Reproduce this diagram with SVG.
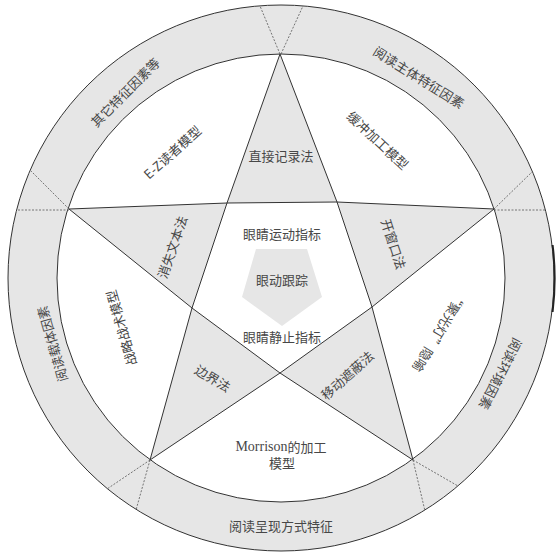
<svg xmlns="http://www.w3.org/2000/svg" width="560" height="558" viewBox="0 0 560 558">
<style>
.g{fill:#e6e6e6}
.ln{fill:none;stroke:#333;stroke-width:1}
.ds{fill:none;stroke:#555;stroke-width:0.8;stroke-dasharray:2 1.5}
text{font-family:"Noto Sans CJK SC","Noto Sans",sans-serif;font-size:13px;fill:#474747;text-anchor:middle;dominant-baseline:central}
.lat{font-family:"Liberation Serif","Noto Sans CJK SC",serif;font-size:14px}
</style>
<rect width="560" height="558" fill="#fff"/>
<g id="ring">
<path class="g" fill-rule="evenodd" d="M8,278 a273,273 0 1,0 546,0 a273,273 0 1,0 -546,0 Z M57,278 a224,224 0 1,0 448,0 a224,224 0 1,0 -448,0 Z"/>
<circle cx="281" cy="278" r="273" class="ln"/>
<circle cx="281" cy="278" r="224" class="ln"/>
<path d="M552.6,245 A273.6,273.6 0 0 1 552.6,312" fill="none" stroke="#222" stroke-width="2"/>
</g>
<g id="ring-labels">
<g id="r-other"><text transform="translate(125,92) rotate(-45)">其它特征因素等</text></g>
<g id="r-subject"><text transform="translate(419,77) rotate(32)">阅读主体特征因素</text></g>
<g id="r-env"><text transform="translate(501,374) rotate(117)">阅读环境因素</text></g>
<g id="r-present"><text x="281" y="525">阅读呈现方式特征</text></g>
<g id="r-carrier"><text transform="translate(52,344) rotate(-106)">阅读载体因素</text></g>
</g>
<g id="star">
<polygon class="g" points="280,54 337,202 227,203"/>
<polygon class="g" points="494,209 372,307 337,202"/>
<polygon class="g" points="413,460 280,373 372,307"/>
<polygon class="g" points="150,460 192,308 280,373"/>
<polygon class="g" points="69,209 227,203 192,308"/>
</g>
<g id="connectors">
<polyline class="ln" points="69,209 227,203 337,202 494,209"/>
<polyline class="ln" points="280,54 227,203 192,308 150,460"/>
<polyline class="ln" points="280,54 337,202 372,307 413,460"/>
<polyline class="ln" points="69,209 192,308 280,373 413,460"/>
<polyline class="ln" points="494,209 372,307 280,373 150,460"/>
<line class="ds" x1="280" y1="54" x2="260" y2="6"/>
<line class="ds" x1="281" y1="54" x2="303" y2="6"/>
<line class="ds" x1="494" y1="209" x2="532" y2="172"/>
<line class="ds" x1="494" y1="210" x2="546" y2="210"/>
<line class="ds" x1="69" y1="209" x2="31" y2="171"/>
<line class="ds" x1="69" y1="210" x2="16" y2="210"/>
<line class="ds" x1="150" y1="460" x2="107" y2="489"/>
<line class="ds" x1="150" y1="460" x2="136" y2="510"/>
<line class="ds" x1="413" y1="460" x2="458" y2="486"/>
<line class="ds" x1="413" y1="460" x2="425" y2="511"/>
</g>
<g id="arm-top"><text x="281" y="155">直接记录法</text></g>
<g id="arm-right"><text transform="translate(394,244) rotate(72)">开窗口法</text></g>
<g id="arm-bottom-right"><text transform="translate(347,375) rotate(-42)">移动遮蔽法</text></g>
<g id="arm-bottom-left"><text transform="translate(213,378) rotate(31)">边界法</text></g>
<g id="arm-left"><text transform="translate(172,247) rotate(-71)">消失文本法</text></g>
<g id="model-ez"><text transform="translate(172,152) rotate(-42)">E-Z读者模型</text></g>
<g id="model-buffer"><text transform="translate(378,140) rotate(43)">缓冲加工模型</text></g>
<g id="model-spot"><text transform="translate(440,332) rotate(121)">“聚光灯”隐喻</text></g>
<g id="model-morrison"><text x="281" y="446"><tspan class="lat">Morrison</tspan>的加工</text><text x="282" y="462">模型</text></g>
<g id="model-strategy"><text transform="translate(121,328) rotate(-106)">战略战术模型</text></g>
<g id="center">
<text x="282" y="233">眼睛运动指标</text>
<polygon class="g" points="256,249 307,249 322,297 282,326 242,297"/>
<text x="282" y="279">眼动跟踪</text>
<text x="282" y="336">眼睛静止指标</text>
</g>
</svg>
